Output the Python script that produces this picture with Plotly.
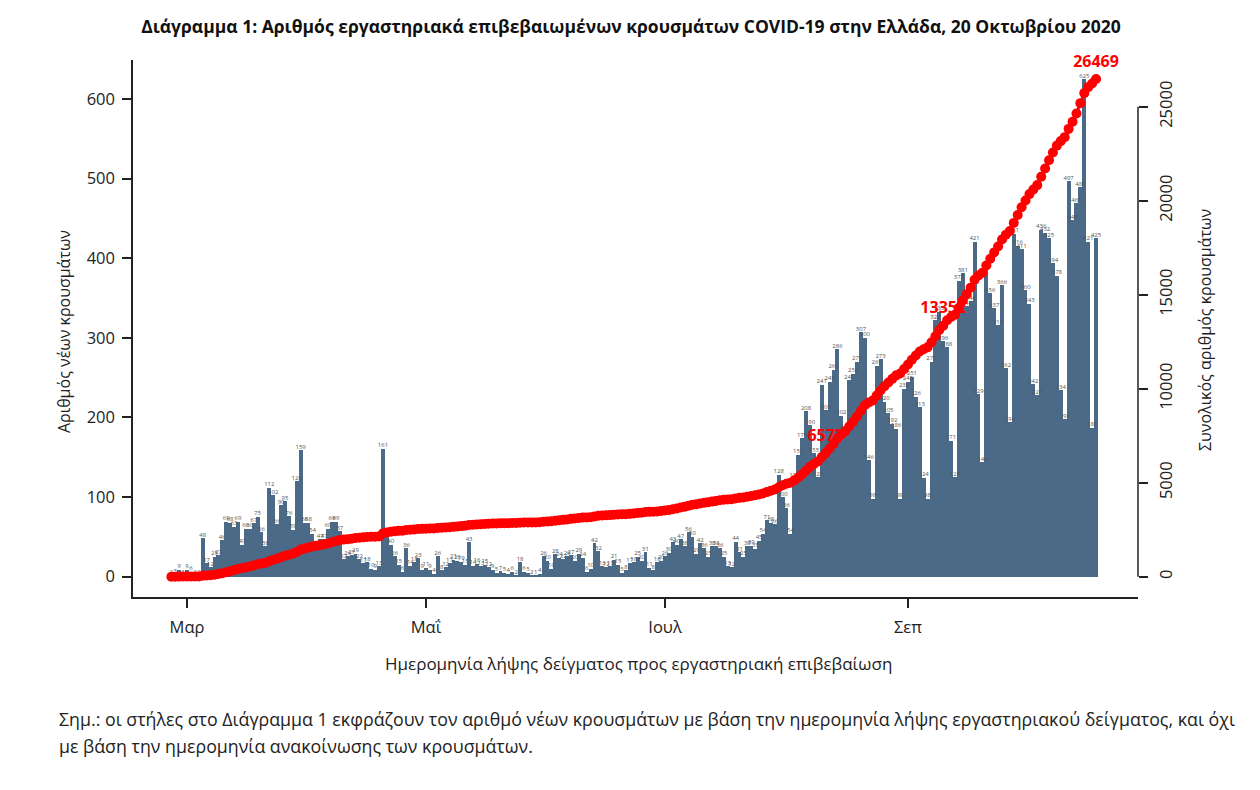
import pandas as pd
import plotly.graph_objects as go

start_date = "2020-02-26"

# new cases per day, by date of sampling
new_cases = [
    2, 3, 9, 1, 9, 6, 2, 2,
    48, 17, 12, 25, 27, 46, 69, 68,
    63, 69, 40, 60, 60, 67, 75, 56,
    38, 112, 102, 66, 90, 95, 76, 59,
    120, 159, 68, 68, 54, 37, 47, 47,
    60, 69, 69, 57, 22, 26, 27, 29,
    22, 17, 18, 10, 9, 13, 161, 53,
    40, 26, 15, 6, 36, 14, 18, 23,
    9, 11, 9, 4, 26, 8, 12, 17,
    21, 20, 19, 15, 43, 14, 16, 13,
    15, 12, 9, 5, 7, 5, 4, 6,
    2, 18, 6, 5, 2, 1, 4, 26,
    20, 10, 28, 24, 22, 26, 27, 20,
    29, 24, 6, 10, 42, 32, 13, 12,
    13, 21, 15, 5, 8, 17, 18, 25,
    20, 31, 11, 8, 18, 20, 26, 30,
    43, 40, 47, 38, 56, 50, 29, 42,
    36, 25, 38, 38, 36, 25, 13, 12,
    44, 31, 25, 38, 39, 35, 45, 54,
    71, 68, 66, 128, 100, 86, 54, 123,
    153, 174, 208, 190, 155, 125, 241, 209,
    245, 260, 286, 202, 179, 247, 255, 270,
    307, 300, 146, 98, 265, 273, 220, 205,
    192, 186, 98, 236, 245, 251, 226, 213,
    124, 98, 270, 322, 333, 296, 288, 171,
    125, 372, 381, 340, 346, 421, 229, 144,
    388, 356, 337, 316, 366, 262, 194, 431,
    416, 411, 360, 343, 242, 228, 436, 432,
    425, 394, 378, 234, 198, 497, 448, 469,
    489, 625, 421, 187, 425,
]

# total cases (right axis)
total_cases = [
    1, 3, 5, 8, 10, 12, 14, 17,
    48, 62, 82, 110, 140, 185, 240, 295,
    350, 410, 445, 495, 545, 600, 660, 705,
    735, 825, 905, 960, 1035, 1110, 1170, 1220,
    1315, 1440, 1495, 1555, 1605, 1640, 1680, 1720,
    1770, 1830, 1890, 1950, 1972, 1998, 2025, 2054,
    2076, 2093, 2111, 2121, 2130, 2143, 2304, 2357,
    2397, 2423, 2438, 2444, 2480, 2494, 2512, 2535,
    2544, 2555, 2564, 2568, 2594, 2602, 2614, 2631,
    2652, 2672, 2691, 2706, 2749, 2763, 2779, 2792,
    2807, 2819, 2828, 2833, 2840, 2845, 2849, 2855,
    2857, 2875, 2881, 2886, 2888, 2889, 2893, 2919,
    2939, 2949, 2977, 3001, 3023, 3049, 3076, 3096,
    3125, 3149, 3155, 3165, 3207, 3239, 3252, 3264,
    3277, 3298, 3313, 3318, 3326, 3343, 3361, 3386,
    3406, 3437, 3448, 3456, 3474, 3494, 3520, 3550,
    3593, 3633, 3680, 3718, 3774, 3824, 3853, 3895,
    3931, 3956, 3994, 4032, 4068, 4093, 4106, 4118,
    4162, 4193, 4218, 4256, 4295, 4330, 4375, 4429,
    4500, 4568, 4634, 4762, 4862, 4948, 5002, 5125,
    5278, 5452, 5653, 5843, 5998, 6123, 6364, 6573,
    6818, 7078, 7364, 7566, 7745, 7992, 8247, 8517,
    8824, 9124, 9270, 9368, 9633, 9906, 10126, 10331,
    10523, 10709, 10807, 11043, 11288, 11539, 11765, 11978,
    12102, 12200, 12470, 12792, 13125, 13352, 13640, 13811,
    13936, 14308, 14689, 15029, 15375, 15796, 16025, 16169,
    16557, 16913, 17250, 17566, 17932, 18194, 18388, 18819,
    19235, 19650, 20010, 20350, 20600, 20830, 21270, 21710,
    22150, 22560, 22930, 23170, 23380, 23820, 24200, 24640,
    25190, 25720, 26040, 26230, 26469,
]

# days whose total is written on the chart
labelled_days = [167, 197, 236]

tick_dates = ["2020-03-01", "2020-05-01", "2020-07-01", "2020-09-01"]
tick_names = ["Μαρ", "Μαΐ", "Ιουλ", "Σεπ"]
left_ticks = [0, 100, 200, 300, 400, 500, 600]
right_ticks = [0, 5000, 10000, 15000, 20000, 25000]

title = "Διάγραμμα 1: Αριθμός εργαστηριακά επιβεβαιωμένων κρουσμάτων COVID-19 στην Ελλάδα, 20 Οκτωβρίου 2020"
left_title = "Αριθμός νέων κρουσμάτων"
right_title = "Συνολικός αριθμός κρουσμάτων"
x_title = "Ημερομηνία λήψης δείγματος προς εργαστηριακή επιβεβαίωση"
note_lines = [
    "Σημ.: οι στήλες στο Διάγραμμα 1 εκφράζουν τον αριθμό νέων κρουσμάτων με βάση την ημερομηνία λήψης εργαστηριακού δείγματος, και όχι",
    "με βάση την ημερομηνία ανακοίνωσης των κρουσμάτων.",
]

FONT = "Open Sans"
BAR_COLOR = "#4b6a88"
RED = "#ff0000"
INK = "#222222"

# the page body has an 8px margin, so the figure is laid out 8px up/left
OFF = 8
PLOT_L, PLOT_T, PLOT_W, PLOT_H = 133, 60, 1005, 537


def px(x):
    return (x - PLOT_L) / PLOT_W


def py(y):
    return (PLOT_T + PLOT_H - y) / PLOT_H


dates = pd.date_range(start_date, periods=len(new_cases), freq="D")

fig = go.Figure()

fig.add_trace(
    go.Bar(
        x=dates,
        y=new_cases,
        marker=dict(color=BAR_COLOR, line=dict(width=0)),
        hoverinfo="x+y",
        showlegend=False,
    )
)

fig.add_trace(
    go.Scatter(
        x=dates,
        y=new_cases,
        mode="text",
        text=[str(v) for v in new_cases],
        textposition="top center",
        textfont=dict(family=FONT, size=6, color="#555555"),
        hoverinfo="skip",
        showlegend=False,
        cliponaxis=False,
    )
)

# red totals drawn before the line, so the line sits over them as in the original
fig.add_trace(
    go.Scatter(
        x=[dates[i] for i in labelled_days],
        y=[total_cases[i] for i in labelled_days],
        yaxis="y2",
        mode="markers+text",
        marker=dict(size=12, opacity=0),
        text=[str(total_cases[i]) for i in labelled_days],
        textposition="top center",
        textfont=dict(family=FONT, size=16, color=RED, weight="bold"),
        hoverinfo="skip",
        showlegend=False,
        cliponaxis=False,
    )
)

fig.add_trace(
    go.Scatter(
        x=dates,
        y=total_cases,
        yaxis="y2",
        mode="lines+markers",
        line=dict(color=RED, width=3),
        marker=dict(color=RED, size=10),
        showlegend=False,
        cliponaxis=False,
    )
)

fig.update_layout(
    width=1260,
    height=790,
    margin=dict(
        l=PLOT_L - OFF,
        r=1260 - (PLOT_L - OFF) - PLOT_W,
        t=PLOT_T - OFF,
        b=790 - (PLOT_T - OFF) - PLOT_H,
    ),
    paper_bgcolor="white",
    plot_bgcolor="white",
    bargap=0,
    font=dict(family=FONT, size=16, color=INK),
    title=dict(
        text=title,
        x=(631 - OFF) / 1260,
        xanchor="center",
        y=1 - (27 - OFF) / 790,
        yanchor="middle",
        font=dict(family=FONT, size=17.5, color="#111111", weight="bold"),
    ),
    xaxis=dict(
        type="date",
        range=["2020-02-16 05:00", "2020-10-29 17:00"],
        tickvals=tick_dates,
        ticktext=tick_names,
        ticks="outside",
        ticklen=9,
        tickcolor=INK,
        tickwidth=1.5,
        ticklabelstandoff=5,
        showline=True,
        linecolor=INK,
        linewidth=1.5,
        showgrid=False,
        zeroline=False,
        tickfont=dict(size=16.5, color=INK),
    ),
    yaxis=dict(
        range=[-25.5, 649],
        tickvals=left_ticks,
        ticks="outside",
        ticklen=9,
        tickcolor=INK,
        tickwidth=1.5,
        ticklabelstandoff=4,
        showline=True,
        linecolor=INK,
        linewidth=1.5,
        showgrid=False,
        zeroline=False,
        tickfont=dict(size=16.5, color=INK),
    ),
    yaxis2=dict(
        overlaying="y",
        side="right",
        range=[-1080, 27484],
        tickvals=right_ticks,
        ticktext=[str(v) for v in right_ticks],
        tickangle=-90,
        ticks="outside",
        ticklen=9,
        tickcolor=INK,
        tickwidth=1.5,
        ticklabelstandoff=4,
        showline=False,
        showgrid=False,
        zeroline=False,
        tickfont=dict(size=16.5, color=INK),
    ),
)

# right axis line only spans its ticks
fig.add_shape(
    type="line",
    xref="paper",
    yref="y2",
    x0=1,
    x1=1,
    y0=right_ticks[0],
    y1=right_ticks[-1],
    line=dict(color=INK, width=1.5),
)

fig.add_annotation(
    text=left_title, xref="paper", yref="paper",
    x=px(64), y=py(332), xanchor="center", yanchor="middle",
    textangle=-90, showarrow=False, font=dict(size=16, color=INK),
)
fig.add_annotation(
    text=right_title, xref="paper", yref="paper",
    x=px(1205), y=py(330), xanchor="center", yanchor="middle",
    textangle=-90, showarrow=False, font=dict(size=16, color=INK),
)
fig.add_annotation(
    text=x_title, xref="paper", yref="paper",
    x=px(638), y=py(663), xanchor="center", yanchor="middle",
    showarrow=False, font=dict(size=17, color=INK),
)
for n, line in enumerate(note_lines):
    fig.add_annotation(
        text=line, xref="paper", yref="paper",
        x=px(57), y=py(719 + 27 * n),
        xanchor="left", yanchor="middle", showarrow=False,
        font=dict(size=17.8, color=INK),
    )

fig.write_html("out.html")
